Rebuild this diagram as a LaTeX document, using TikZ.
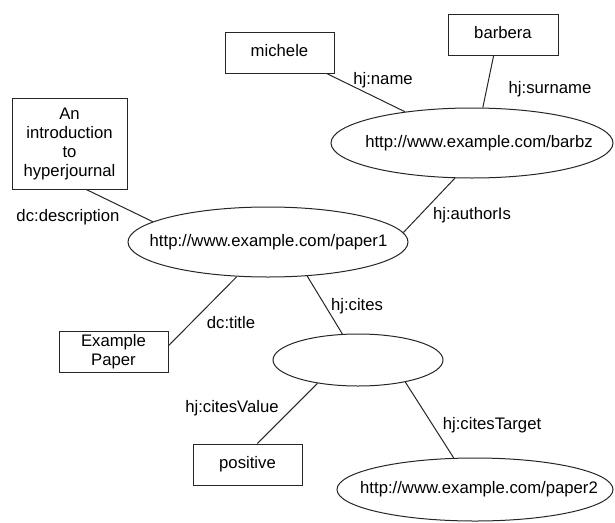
\documentclass[tikz,border=0pt]{standalone}
\usepackage{fontspec}
\setmainfont{Liberation Sans}
\usetikzlibrary{shapes.geometric}
\newcommand\labfont{\fontsize{16.7}{19}\selectfont}
\begin{document}
\begin{tikzpicture}[x=1pt,y=-1pt,
  box/.style={draw=black!85, line width=1pt, rectangle, inner sep=0pt, align=center, font=\labfont},
  oval/.style={draw=black!85, line width=1pt, ellipse, inner sep=0pt},
  lbl/.style={inner sep=0pt, font=\labfont, text height=12pt, text depth=4pt},
  link/.style={draw=black!85, line width=1pt}]
\useasboundingbox (0,0) rectangle (615,522);

% literal boxes
\node[box, minimum width=115pt, minimum height=91pt] (intro) at (69.5,143.5) {An\\introduction\\to\\hyperjournal};
\node[box, minimum width=109pt, minimum height=41pt, text height=12pt, text depth=4pt] (michele) at (279.5,52.5) {michele};
\node[box, minimum width=110pt, minimum height=41pt, text height=12pt, text depth=4pt] (barbera) at (503,34.5) {barbera};
\node[box, minimum width=109pt, minimum height=41pt] (example) at (113.5,351.5) {Example\\Paper};
\node[box, minimum width=109pt, minimum height=41pt, text height=12pt, text depth=4pt] (positive) at (247.5,464.5) {positive};

% resource ellipses
\node[oval, minimum width=282pt, minimum height=70pt] (barbz) at (472,143) {};
\node[lbl] (barbzt) at (479,143) {http://www.example.com/barbz};
\node[oval, minimum width=280pt, minimum height=70pt] (paper1) at (268,242) {};
\node[lbl] (paper1t) at (268.5,242) {http://www.example.com/paper1};
\node[oval, minimum width=170pt, minimum height=52pt] (cites) at (358,360) {};
\node[oval, minimum width=276pt, minimum height=63pt] (paper2) at (475,489.5) {};
\node[lbl] (paper2t) at (479,489.5) {http://www.example.com/paper2};

% connectors
\draw[link] (michele.-24.7) -- (barbz.155.2);
\draw[link] (barbera.246.3) -- (barbz.73);
\draw[link] (barbz.244.7) -- (paper1.4.7);
\draw[link] (intro.-70) -- (paper1.170.4);
\draw[link] (paper1.228.5) -- (example.6.8);
\draw[link] (paper1.-41.9) -- (cites.121.6);
\draw[link] (cites.210) -- (positive.65.1);
\draw[link] (cites.-25.1) -- (paper2.124.9);

% property labels
\node[lbl] (lname) at (383,80) {hj:name};
\node[lbl] (lsurname) at (550,89) {hj:surname};
\node[lbl] (ldesc) at (68,217) {dc:description};
\node[lbl] (lauthor) at (472,215) {hj:authorIs};
\node[lbl] (lcites) at (357,306) {hj:cites};
\node[lbl] (ltitle) at (231,324) {dc:title};
\node[lbl] (lvalue) at (232,408) {hj:citesValue};
\node[lbl] (ltarget) at (492,425) {hj:citesTarget};
\end{tikzpicture}
\end{document}
